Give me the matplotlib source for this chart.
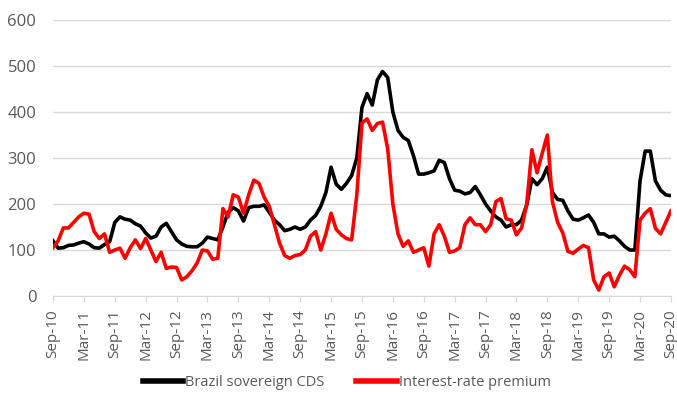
import matplotlib
matplotlib.use("Agg")
from matplotlib import pyplot as plt
from matplotlib.lines import Line2D
import numpy as np
import pandas as pd

# monthly spreads, bp, Sep-2010 .. Sep-2020
months = pd.date_range("2010-09-01", "2020-09-01", freq="MS")

cds = [
    120, 104, 105, 110,
    111, 115, 118, 113, 105, 104, 112, 118, 160, 172, 167, 165,
    157, 152, 137, 126, 130, 150, 158, 140, 122, 113, 108, 107,
    107, 115, 128, 125, 122, 150, 182, 192, 185, 163, 192, 195,
    195, 198, 182, 165, 155, 142, 145, 150, 145, 150, 165, 175,
    195, 225, 280, 243, 232, 245, 262, 300, 410, 440, 415, 470,
    488, 475, 400, 360, 345, 338, 305, 265, 265, 268, 272, 295,
    290, 255, 230, 228, 222, 225, 238, 220, 200, 185, 172, 165,
    150, 155, 155, 165, 198, 255, 242, 255, 280, 225, 210, 208,
    185, 167, 165, 170, 176, 160, 135, 135, 128, 130, 120, 108,
    100, 100, 250, 315, 315, 250, 230, 220, 218,
]

premium = [
    105, 120, 148, 148,
    160, 172, 180, 178, 140, 125, 135, 95, 100, 104, 82, 105,
    122, 103, 125, 100, 75, 95, 60, 63, 62, 35, 42, 55,
    72, 100, 98, 80, 82, 190, 172, 220, 215, 180, 220, 252,
    245, 215, 195, 155, 115, 88, 82, 88, 90, 100, 130, 140,
    100, 135, 180, 145, 133, 125, 122, 220, 376, 385, 360, 375,
    378, 320, 200, 135, 108, 120, 95, 100, 105, 65, 135, 155,
    130, 95, 98, 105, 155, 170, 155, 155, 140, 155, 205, 212,
    168, 165, 133, 148, 200, 318, 268, 310, 350, 205, 160, 137,
    97, 93, 102, 110, 105, 35, 13, 42, 50, 20, 45, 65,
    57, 42, 165, 180, 190, 147, 135, 160, 185,
]

series_names = ["Brazil sovereign CDS", "Interest-rate premium"]
yticks = [0, 100, 200, 300, 400, 500, 600]

plt.rcParams["font.family"] = ["Open Sans", "DejaVu Sans"]
grey = "#595959"

fig = plt.figure(figsize=(6.77, 3.96), dpi=100)
ax = fig.add_axes([0.0783, 0.2525, 0.9127, 0.697])

x = np.arange(len(months))
ax.plot(x, cds, color="black", lw=2.6, solid_joinstyle="round", zorder=3)
ax.plot(x, premium, color="#ff0000", lw=2.6, solid_joinstyle="round", zorder=3)

ax.set_xlim(0, len(months) - 1)
ax.set_ylim(0, 600)
ax.set_yticks(yticks)
ax.yaxis.grid(True, color="#d9d9d9", lw=1)
ax.set_axisbelow(True)

tick_pos = x[::6]
ax.set_xticks(tick_pos)
ax.set_xticklabels([months[i].strftime("%b-%y") for i in tick_pos], rotation=90)

for side in ["top", "right", "left"]:
    ax.spines[side].set_visible(False)
ax.spines["bottom"].set_color("#d9d9d9")
ax.tick_params(axis="x", colors="#d9d9d9", length=4.5, labelcolor=grey,
               labelsize=11, pad=5)
ax.tick_params(axis="y", length=0, labelcolor=grey, labelsize=12, pad=12)

handles = [Line2D([], [], color="black", lw=4),
           Line2D([], [], color="#ff0000", lw=4)]
fig.legend(handles, series_names, loc="center", bbox_to_anchor=(0.512, 0.033),
           ncol=2, frameon=False, fontsize=10.5, handlelength=2.8,
           handletextpad=0.1, columnspacing=2.2, labelcolor=grey)

fig.savefig("out.png", dpi=100)
